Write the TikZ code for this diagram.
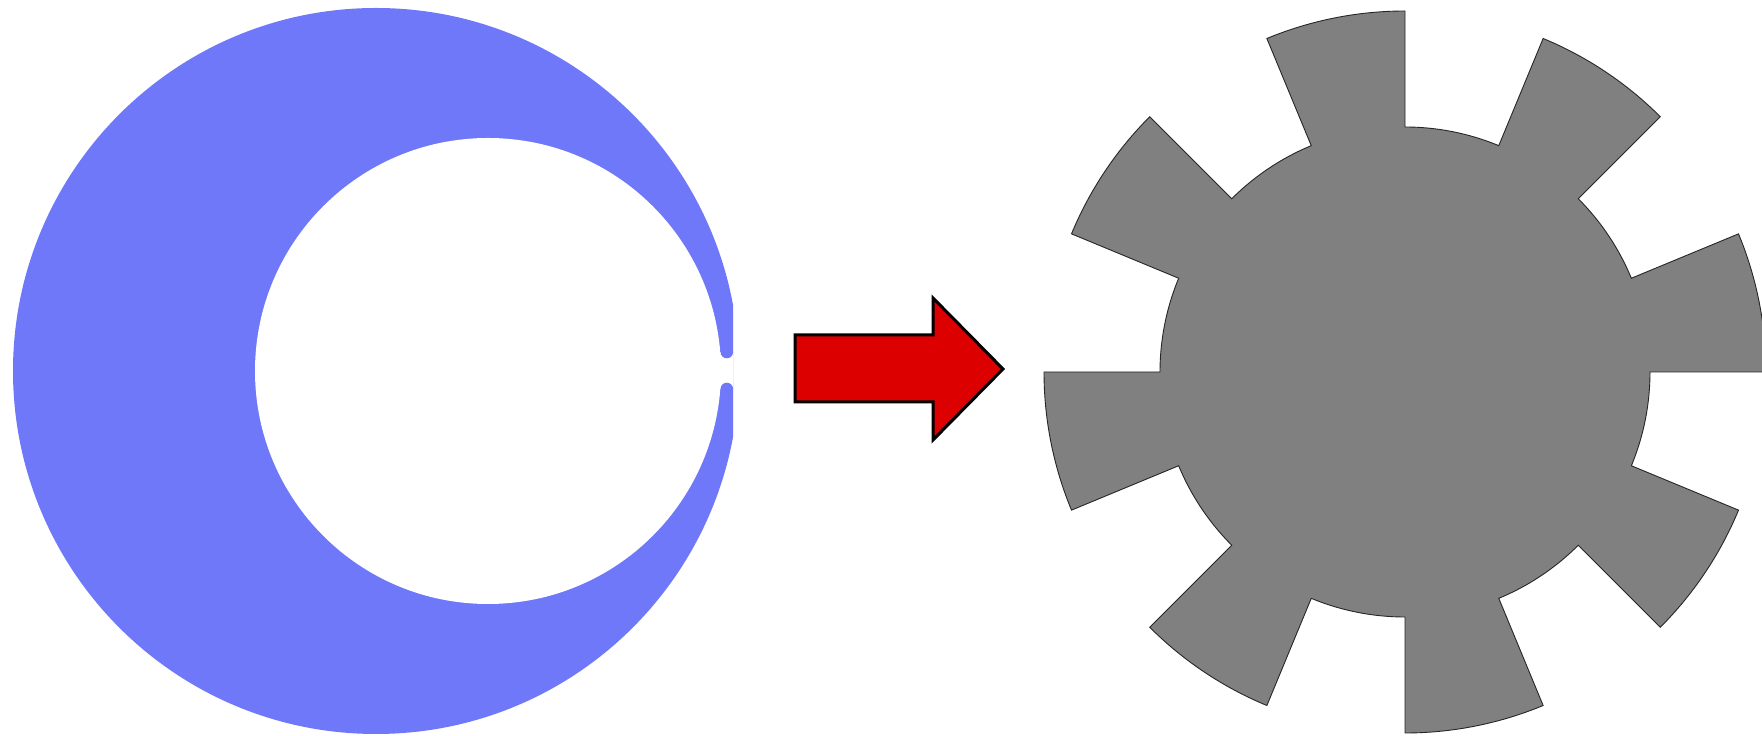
\documentclass[tikz,border=0pt]{standalone}
\usepackage{tikz}
\definecolor{moonblue}{RGB}{110,120,248}
\definecolor{arrowred}{RGB}{221,0,0}
\definecolor{geargray}{RGB}{128,128,128}
\tikzset{
  moon/.style={fill=moonblue},
  hole/.style={fill=white},
  blockarrow/.style={fill=arrowred, draw=black, line width=3pt, line join=miter},
  gearshape/.style={fill=geargray, draw=black!85, line width=0.9pt, line join=miter}
}
\begin{document}
\begin{tikzpicture}[x=1pt,y=1pt]
\clip (0,0) rectangle (1762,736);
\fill[white] (0,0) rectangle (1762,736);
% crescent
\coordinate (oc) at (376,365);
\coordinate (ic) at (488,365);
\begin{scope}
  \clip (0,0) rectangle (733,736);
  \fill[moon] (oc) circle[radius=363];
  \fill[hole] (ic) circle[radius=233];
  \fill[hole] (705,347) rectangle (745,384);
  \fill[moon] (726.8,384) circle[radius=6.3];
  \fill[moon] (726.8,347) circle[radius=6.3];
\end{scope}
% arrow
\coordinate (bl) at (795,334);
\coordinate (tl) at (795,401);
\coordinate (tb) at (933,401);
\coordinate (ht) at (933,438);
\coordinate (tip) at (1003,367);
\coordinate (hb) at (933,296);
\coordinate (bb) at (933,334);
\draw[blockarrow] (bl) -- (tl) -- (tb) -- (ht) -- (tip) -- (hb) -- (bb) -- cycle;
% gear
\coordinate (gc) at (1405,364);
\begin{scope}[shift={(gc)}]
  \draw[gearshape] (90:245)
    \foreach \a in {90,135,...,405} {
      -- (\a:361) arc[start angle=\a, end angle={\a+22.5}, radius=361]
      -- ({\a+22.5}:245) arc[start angle={\a+22.5}, end angle={\a+45}, radius=245]
    } -- cycle;
\end{scope}
\end{tikzpicture}
\end{document}
